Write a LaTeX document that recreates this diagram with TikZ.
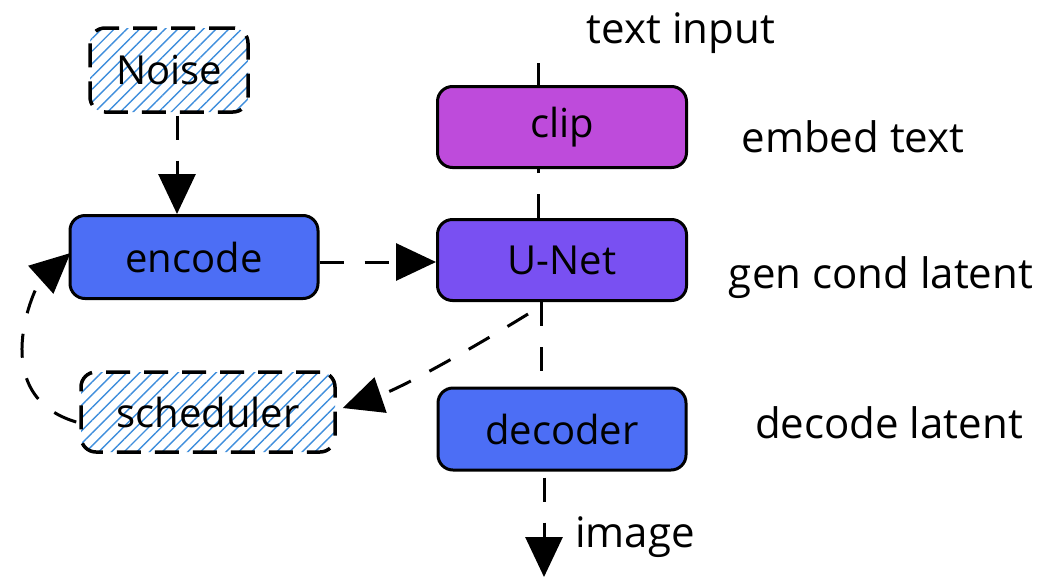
\documentclass[tikz,border=0pt]{standalone}
\usepackage{fontspec}
\setmainfont{Open Sans}
\usetikzlibrary{arrows.meta,patterns.meta,calc}
\definecolor{clipc}{HTML}{BE4BDB}
\definecolor{unetc}{HTML}{7950F2}
\definecolor{blockc}{HTML}{4C6EF5}
\definecolor{hatchc}{HTML}{3F8EDC}
\begin{document}
\begin{tikzpicture}[x=1pt,y=-1pt,
  box/.style={draw=black, line width=3pt, rounded corners=15pt,
    minimum width=248pt, minimum height=82pt, inner sep=0pt,
    font=\fontsize{40}{48}\selectfont},
  hatchbox/.style={box, line width=3.5pt, dash pattern=on 24pt off 14pt,
    pattern={Lines[angle=45,distance=9pt,line width=1.4pt]}, pattern color=hatchc},
  conn/.style={line width=3pt, dash pattern=on 24pt off 21pt},
  arr/.style={conn, -{Triangle[length=40pt,width=37pt]}},
  lbl/.style={font=\fontsize{42}{50}\selectfont, inner sep=0pt, anchor=base}]
\useasboundingbox (0,0) rectangle (1051,576);

% boxes
\node[hatchbox, minimum width=158pt, minimum height=84pt] (noise) at (169,70) {Noise};
\node[box, fill=blockc, minimum height=83pt] (encode) at (194,257) {encode};
\node[hatchbox, minimum width=254pt, minimum height=80pt] (scheduler) at (208,412) {scheduler};
\node[box, fill=clipc, minimum width=249pt, minimum height=81pt] (clip) at (562,127) {clip};
\node[box, fill=unetc, minimum width=249pt, minimum height=81pt] (unet) at (562,260) {U-Net};
\node[box, fill=blockc] (decoder) at (562,429) {decoder};

% labels
\node[lbl] (ltext) at (681,43) {text input};
\node[lbl] (lembed) at (853,152) {embed text};
\node[lbl] (lgen) at (881,288) {gen cond latent};
\node[lbl] (ldec) at (889,438) {decode latent};
\node[lbl] (limg) at (635,547) {image};

% helper coordinates
\coordinate (tin) at (538,63);
\coordinate (ud) at (541,0);
\coordinate (di) at (544,0);
\coordinate (img) at (544,577);
\coordinate (ns) at ($(noise.south)+(8,3)$);

% connectors
\draw[arr] (ns) -- (ns |- encode.north);
\draw[arr] ([yshift=-5pt]encode.east) -- ([yshift=-5pt]encode.east -| unet.west);
\draw[conn] (tin) -- (tin |- clip.north);
\draw[conn] (tin |- unet.north) -- (tin |- clip.south);
\draw[conn] (ud |- unet.south) -- (ud |- decoder.north);
\draw[arr] ($(di |- decoder.south)+(0,6)$) -- (img);
\draw[arr] ($(unet.south)+(-34,12)$) .. controls (468,351) and (401,388) .. ($(scheduler.east)+(6,-4)$);
\draw[arr] ($(scheduler.west)+(-3,10)$) .. controls (-15,395) and (35,285) .. ($(encode.west)+(2,-4)$);
\end{tikzpicture}
\end{document}
